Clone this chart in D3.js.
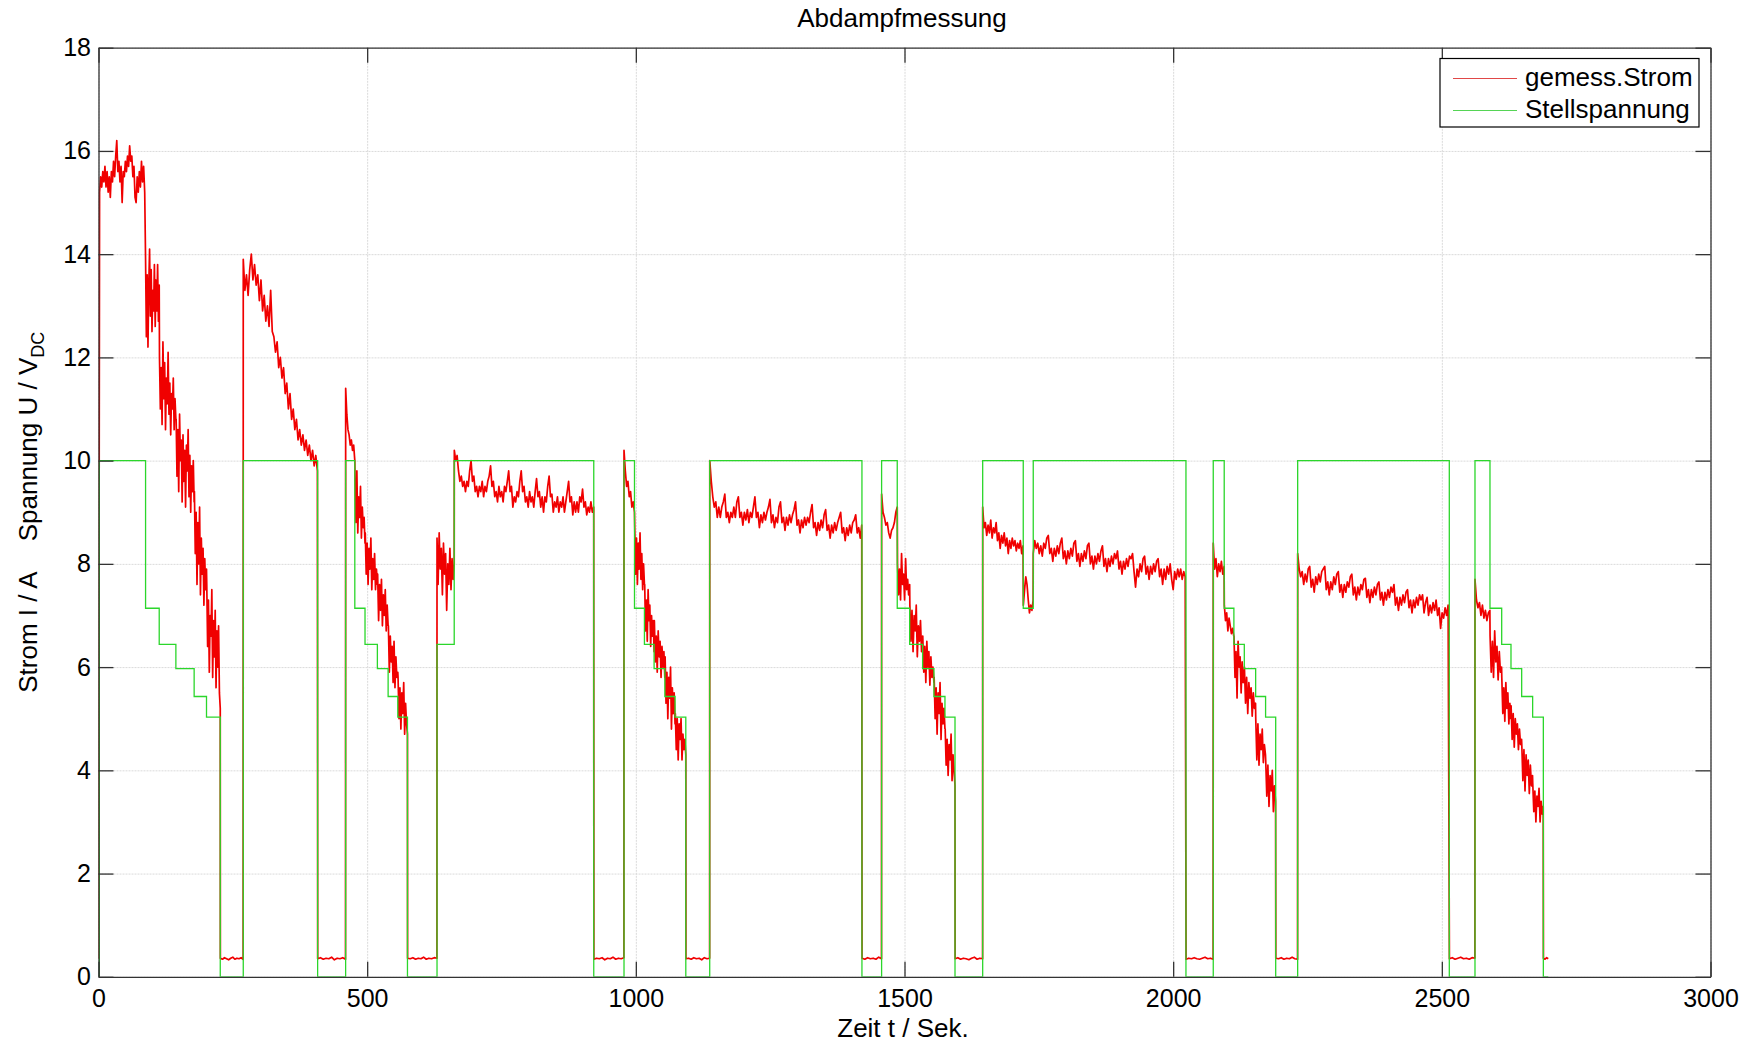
<!doctype html>
<html>
<head>
<meta charset="utf-8"/>
<title>Abdampfmessung</title>
<script src="https://cdnjs.cloudflare.com/ajax/libs/d3/7.8.5/d3.min.js"></script>
<style>
body { margin: 0; background: #fff; }
svg { font-family: "Liberation Sans", Arial, sans-serif; }
</style>
</head>
<body>
<svg width="1756" height="1043"></svg>
<script>
// --- Achsen ---
var xTicks = [0, 500, 1000, 1500, 2000, 2500, 3000]
var yTicks = [0, 2, 4, 6, 8, 10, 12, 14, 16, 18]

// --- Stellspannung (Stufenfunktion): Schaltzeitpunkte und Werte ---
var stellZeit = [0, 1.5, 87.6, 113, 144, 178, 201, 226.6, 269.4, 407.8, 459.9, 477, 496, 519, 539, 557, 575, 630, 662, 921.7,
  978, 997.5, 1016, 1034, 1054, 1073, 1093, 1137.5, 1420.8, 1457.4, 1486.5, 1509.6, 1533.7, 1554.8, 1575.3, 1594, 1645.5,
  1721, 1739.6, 2023.8, 2074.6, 2095, 2113, 2132.4, 2153.5, 2172, 2190.8, 2231.7, 2513.9, 2561.7, 2589.6, 2611.4, 2628.7,
  2648.6, 2669, 2688.9, 2698]
var stellWert = [0, 10, 7.14, 6.44, 5.97, 5.43, 5.03, 0, 10, 0, 10, 7.14, 6.44, 5.97, 5.43, 5.03, 0, 6.44, 10, 0,
  10, 7.14, 6.44, 5.97, 5.43, 5.03, 0, 10, 0, 10, 7.14, 6.44, 5.97, 5.43, 5.03, 0, 10,
  7.14, 10, 0, 10, 7.14, 6.44, 5.97, 5.43, 5.03, 0, 10, 0, 10, 7.14, 6.44, 5.97,
  5.43, 5.03, 0, 0]

var strom01 = [0.35, 15.2, 15.5, 15.3, 15.6, 15.4, 15.7, 15.3, 15.6, 15.2, 15.5, 15.1, 15.6, 15.4, 15.8, 15.5, 15.9, 16.2, 15.6, 15.8, 15.4, 15.7,
  15.0, 15.6, 15.5, 15.8, 15.6, 15.9, 15.7, 16.1, 15.8, 15.9, 15.5, 15.7, 15.1, 15.0, 15.5, 15.2, 15.6, 15.3, 15.8, 15.4, 15.7, 15.2]
var strom02 = [13.9, 12.4, 13.6, 12.2, 13.4, 14.1, 12.8, 13.7, 12.5, 13.3, 12.9, 13.8, 12.6, 13.5, 12.9, 13.8, 12.7, 13.4]
var strom03 = [12.0, 11.0, 11.8, 10.7, 12.3, 11.2, 11.9, 10.6, 11.6, 11.1, 12.1, 10.9, 11.5, 10.5, 11.3, 11.0, 11.6, 10.6, 11.2, 10.8]
var strom04 = [10.8, 9.7, 10.6, 9.4, 10.9, 10.0, 10.4, 9.2, 10.5, 9.6, 10.2, 9.1, 10.3, 9.8, 10.6, 9.3, 10.1, 9.0, 9.9, 9.4, 10.0, 9.2]
var strom05 = [9.4, 8.2, 9.0, 7.6, 8.8, 8.0, 9.1, 7.4, 8.5, 7.8, 8.3, 7.2, 8.1, 7.5, 7.9]
var strom06 = [7.6, 6.4, 7.3, 5.9, 7.0, 6.6, 7.5, 5.8, 6.9, 6.2, 7.1, 5.6, 6.7, 6.0, 6.8, 5.5, 5.2]
var aus01 = [0.36, 0.34, 0.37, 0.35, 0.33, 0.36, 0.38, 0.34, 0.36, 0.35, 0.37, 0.34]
var strom07 = [13.9, 13.3, 13.6, 13.2, 13.7, 14.0, 13.5, 13.8, 13.4, 13.6, 13.1, 13.5, 12.9, 13.2, 12.7, 13.0, 12.6, 13.3, 12.5, 12.4,
  12.1, 12.3, 11.8, 12.0, 11.6, 11.8, 11.3, 11.5, 11.0, 11.3, 10.8, 11.0, 10.6, 10.8, 10.4, 10.6, 10.3, 10.5, 10.2, 10.4,
  10.1, 10.3, 10.0, 10.2, 9.9, 10.1, 9.8]
var aus02 = [0.35, 0.37, 0.34, 0.36, 0.35, 0.38, 0.33, 0.36, 0.35, 0.37, 0.34]
var strom08 = [11.4, 10.9, 10.6, 10.5, 10.3, 10.4, 10.2, 10.3, 10.0]
var strom09 = [9.6, 8.8, 9.8, 8.6, 9.3, 8.9, 9.5, 8.5, 9.1, 8.7, 8.9, 8.4]
var strom10 = [8.6, 7.8, 8.4, 7.6, 8.3, 7.9, 8.5, 7.5, 8.1, 7.7, 8.2, 7.5, 7.9, 7.6]
var strom11 = [7.8, 6.9, 7.6, 7.1, 7.7, 6.8, 7.4, 7.0, 7.5, 6.7, 7.2, 6.8]
var strom12 = [6.8, 5.9, 6.6, 6.1, 6.4, 5.7, 6.5, 5.6, 6.2, 5.8, 5.9]
var strom13 = [5.8, 5.0, 5.6, 4.8, 5.5, 5.1, 5.7, 4.7, 5.3, 4.9, 4.7]
var aus03 = [0.36, 0.35, 0.37, 0.34, 0.36, 0.35, 0.38, 0.34, 0.36, 0.35, 0.37, 0.36]
var strom14 = [8.5, 7.6, 8.6, 7.9, 8.3, 7.4, 8.4, 7.8, 8.2, 7.1, 8.0, 7.6, 8.3, 7.5, 8.1, 7.7, 8.0]
var strom15 = [10.2, 10.0, 10.1, 9.8, 9.6, 9.7, 9.5, 9.6, 9.4, 9.6, 9.5, 9.8, 10.0, 9.6, 9.7, 9.4, 9.5, 9.3, 9.5, 9.4,
  9.6, 9.3, 9.5, 9.4, 9.6, 9.7, 9.9, 9.5, 9.6, 9.3, 9.4, 9.2, 9.5, 9.3, 9.4, 9.2, 9.5, 9.4, 9.6, 9.8,
  9.4, 9.5, 9.1, 9.3, 9.2, 9.4, 9.3, 9.6, 9.8, 9.4, 9.5, 9.2, 9.3, 9.1, 9.4, 9.2, 9.3, 9.1, 9.4, 9.65,
  9.3, 9.4, 9.1, 9.3, 9.0, 9.3, 9.2, 9.5, 9.7, 9.3, 9.35, 9.0, 9.2, 9.1, 9.3, 9.0, 9.2, 9.1, 9.3, 9.0,
  9.2, 9.4, 9.6, 9.2, 9.3, 8.95, 9.2, 9.0, 9.2, 9.0, 9.3, 9.2, 9.45, 9.1, 9.2, 8.95, 9.1, 9.0, 9.2, 9.0, 9.1]
var aus04 = [0.34, 0.36, 0.35, 0.37, 0.33, 0.36, 0.35, 0.38, 0.34, 0.36, 0.35, 0.37]
var strom16 = [10.2, 9.8, 9.5, 9.6, 9.3, 9.4, 9.1, 9.2, 9.0]
var strom17 = [8.7, 7.8, 8.5, 7.6, 8.4, 7.9, 8.6, 7.7, 8.2, 7.5, 8.0, 7.6]
var strom18 = [7.6, 6.7, 7.3, 6.5, 7.5, 6.9, 7.2, 6.4, 7.0, 6.6, 6.9, 6.3]
var strom19 = [6.9, 6.1, 6.6, 5.9, 6.7, 6.2, 6.5, 5.8, 6.4, 6.0, 6.3, 5.8]
var strom20 = [6.2, 5.3, 5.9, 5.0, 5.8, 5.4, 6.0, 4.8, 5.6, 5.1, 5.5, 4.9]
var strom21 = [5.1, 4.4, 5.0, 4.2, 4.9, 4.6, 5.0, 4.2, 4.7, 4.4, 4.6, 4.3]
var aus05 = [0.35, 0.36, 0.34, 0.37, 0.35, 0.36, 0.33, 0.37, 0.35, 0.36]
var strom22 = [10.0, 9.6, 9.3, 9.1, 9.2, 8.9, 9.1, 8.9, 9.1, 9.2, 9.35, 8.9, 9.0, 8.8, 9.0, 8.9, 9.1, 8.9, 9.2, 9.3,
  8.9, 9.0, 8.75, 9.0, 8.85, 9.05, 8.8, 9.0, 8.9, 9.1, 9.3, 8.9, 9.0, 8.7, 8.95, 8.8, 9.0, 8.85, 9.0, 9.1,
  9.25, 8.8, 8.95, 8.7, 8.9, 8.8, 9.1, 9.2, 8.8, 8.9, 8.65, 8.9, 8.75, 8.95, 8.8, 8.95, 9.05, 9.2, 8.75, 8.85,
  8.6, 8.85, 8.7, 8.9, 8.75, 8.9, 8.8, 9.0, 9.15, 8.7, 8.8, 8.55, 8.8, 8.65, 8.85, 8.7, 8.95, 9.05, 8.65, 8.75,
  8.5, 8.75, 8.6, 8.8, 8.65, 8.8, 8.9, 9.0, 8.6, 8.7, 8.45, 8.7, 8.55, 8.75, 8.6, 8.8, 8.85, 8.95, 8.6, 8.7, 8.5, 8.75]
var aus06 = [0.36, 0.34, 0.37, 0.35, 0.36, 0.34, 0.38, 0.35]
var strom23 = [9.35, 9.0, 8.9, 8.75, 8.8, 8.6, 8.5, 8.65, 8.7, 8.8, 9.0, 9.1]
var strom24 = [8.0, 7.4, 7.9, 7.3, 8.2, 7.6, 7.8, 7.3, 8.1, 7.5, 7.7, 7.4, 7.6]
var strom25 = [7.2, 6.5, 7.1, 6.3, 7.0, 6.7, 7.2, 6.2, 6.8, 6.5, 6.9, 6.3, 6.6]
var strom26 = [6.6, 5.9, 6.4, 5.7, 6.5, 6.0, 6.3, 5.65, 6.2, 5.8, 6.0, 5.7]
var strom27 = [5.8, 5.0, 5.6, 4.7, 5.5, 5.1, 5.7, 4.6, 5.3, 4.9, 5.2, 4.8]
var strom28 = [4.8, 4.1, 4.6, 3.9, 4.5, 4.2, 4.7, 3.8, 4.3, 4.0, 3.7]
var aus07 = [0.35, 0.37, 0.34, 0.36, 0.35, 0.33, 0.36, 0.38, 0.34, 0.36, 0.35]
var strom29 = [9.1, 8.7, 8.8, 8.55, 8.75, 8.6, 8.85, 8.5, 8.7, 8.6, 8.8, 8.45, 8.6, 8.3, 8.55, 8.4, 8.6, 8.35, 8.5, 8.2,
  8.45, 8.3, 8.5, 8.35, 8.45, 8.25, 8.4, 8.3, 8.45, 8.2, 8.35]
var strom30 = [7.2, 7.5, 7.75, 7.6, 7.3, 7.05, 7.2, 7.1, 7.3]
var strom31 = [8.2, 8.45, 8.3, 8.4, 8.2, 8.35, 8.15, 8.4, 8.3, 8.5, 8.55, 8.2, 8.3, 8.05, 8.3, 8.15, 8.35, 8.2, 8.4, 8.5,
  8.1, 8.25, 8.0, 8.25, 8.1, 8.3, 8.15, 8.4, 8.45, 8.05, 8.2, 7.95, 8.2, 8.05, 8.25, 8.1, 8.35, 8.4, 8.0, 8.15,
  7.9, 8.15, 8.0, 8.2, 8.05, 8.25, 8.35, 7.95, 8.1, 7.85, 8.1, 7.95, 8.15, 8.0, 8.2, 8.1, 8.25, 7.9, 8.05, 7.8,
  8.05, 7.9, 8.1, 7.95, 8.15, 8.1, 8.2, 7.85, 7.55, 7.9, 7.75, 8.0, 7.85, 8.1, 8.15, 7.8, 7.95, 7.7, 7.95, 7.8,
  8.0, 7.85, 8.05, 8.1, 7.75, 7.9, 7.6, 7.9, 7.7, 7.95, 7.8, 8.0, 7.7, 7.5, 7.85, 7.7, 7.9, 7.75, 7.9, 7.7, 7.85, 7.75]
var aus08 = [0.34, 0.36, 0.35, 0.37, 0.35, 0.34, 0.36, 0.38, 0.35, 0.36, 0.34]
var strom32 = [8.4, 7.9, 8.1, 7.75, 8.0, 7.85, 8.05, 7.8, 7.95]
var strom33 = [7.2, 6.9, 7.05, 6.7, 6.95, 6.8, 6.65, 6.75, 6.6]
var strom34 = [6.6, 5.8, 6.3, 5.4, 6.5, 6.0, 6.2, 5.5, 6.1, 5.7, 5.9]
var strom35 = [6.0, 5.3, 5.8, 5.1, 5.7, 5.4, 5.6, 5.05, 5.5, 5.2, 5.3]
var strom36 = [5.0, 4.2, 4.9, 4.1, 4.7, 4.4, 4.8, 4.15, 4.5, 4.3]
var strom37 = [4.2, 3.5, 4.1, 3.3, 3.9, 3.6, 4.0, 3.2, 3.7, 3.4]
var aus09 = [0.36, 0.35, 0.37, 0.34, 0.36, 0.35, 0.38, 0.35, 0.34]
var strom38 = [8.2, 7.9, 7.75, 7.85, 7.6, 7.8, 7.65, 7.9, 7.95, 7.55, 7.7, 7.45, 7.75, 7.6, 7.8, 7.65, 7.85, 7.9, 7.95, 7.5,
  7.65, 7.4, 7.65, 7.5, 7.75, 7.6, 7.8, 7.85, 7.45, 7.6, 7.35, 7.6, 7.45, 7.65, 7.55, 7.75, 7.8, 7.4, 7.55, 7.3,
  7.55, 7.4, 7.6, 7.5, 7.7, 7.72, 7.35, 7.5, 7.25, 7.5, 7.35, 7.55, 7.4, 7.6, 7.65, 7.3, 7.45, 7.2, 7.45, 7.3,
  7.5, 7.35, 7.55, 7.45, 7.6, 7.2, 7.35, 7.1, 7.35, 7.2, 7.4, 7.25, 7.45, 7.5, 7.15, 7.3, 7.05, 7.3, 7.15, 7.35,
  7.2, 7.4, 7.3, 7.4, 7.05, 7.25, 7.35, 7.0, 7.2, 7.05, 7.25, 7.1, 7.3, 7.0, 7.15, 6.75, 7.05, 6.95, 7.15, 7.0, 7.2]
var aus10 = [0.35, 0.37, 0.34, 0.36, 0.38, 0.35, 0.36, 0.34, 0.37, 0.36]
var strom39 = [7.7, 7.3, 7.15, 7.25, 7.0, 7.2, 6.95, 7.1, 6.9, 7.05, 7.1]
var strom40 = [6.6, 5.9, 6.5, 5.8, 6.7, 6.1, 6.4, 5.75, 6.3, 5.9, 6.0]
var strom41 = [5.8, 5.1, 5.6, 4.95, 5.7, 5.2, 5.5, 4.9, 5.3, 5.0]
var strom42 = [5.25, 4.6, 5.1, 4.45, 5.0, 4.7, 4.9, 4.4, 4.8, 4.5, 4.6]
var strom43 = [4.5, 3.8, 4.4, 3.6, 4.3, 3.9, 4.2, 3.55, 4.1, 3.7, 3.9]
var strom44 = [3.75, 3.2, 3.6, 3.0, 3.5, 3.3, 3.65, 3.0, 3.4, 3.15, 3.3]
var aus11 = [0.36, 0.34, 0.37, 0.35]

// Abschnitte: [von Sek., bis Sek., Messwerte]
var stromAbschnitte = [
  [0, 86, strom01], [87.6, 113, strom02], [113.5, 144, strom03], [144.5, 178, strom04], [178.5, 201, strom05],
  [201.5, 226.6, strom06], [226.8, 269.2, aus01], [269.4, 407.4, strom07], [407.9, 459.7, aus02],
  [460, 477, strom08], [477.5, 496, strom09], [496.5, 519, strom10], [519.5, 539, strom11], [539.5, 557, strom12],
  [557.5, 575, strom13], [575.2, 629.8, aus03], [630, 662, strom14], [662.2, 921.6, strom15], [921.9, 977.8, aus04],
  [978, 997.5, strom16], [998, 1016, strom17], [1016.5, 1034, strom18], [1034.5, 1054, strom19], [1054.5, 1073, strom20],
  [1073.5, 1093, strom21], [1093.2, 1137.3, aus05], [1137.6, 1420.4, strom22], [1421, 1457.2, aus06],
  [1457.4, 1486.5, strom23], [1487, 1509.6, strom24], [1510, 1533.7, strom25], [1534, 1554.8, strom26],
  [1555.2, 1575.3, strom27], [1575.7, 1594, strom28], [1594.2, 1645.3, aus07], [1645.5, 1720.6, strom29],
  [1721.2, 1739.4, strom30], [1739.6, 2022.4, strom31], [2024, 2074.4, aus08], [2074.6, 2094.8, strom32],
  [2095.2, 2112.8, strom33], [2113.2, 2132.2, strom34], [2132.6, 2153.3, strom35], [2153.7, 2171.8, strom36],
  [2172.2, 2190.6, strom37], [2191, 2231.5, aus09], [2231.7, 2511.7, strom38], [2514.1, 2561.5, aus10],
  [2561.7, 2589.4, strom39], [2589.8, 2611.2, strom40], [2611.6, 2628.5, strom41], [2628.9, 2648.4, strom42],
  [2648.8, 2668.8, strom43], [2669.2, 2688.7, strom44], [2689.1, 2698, aus11]
]

// Messpunkte gleichmaessig ueber jeden Abschnitt verteilen
var stromDaten = []
stromAbschnitte.forEach(function(a) {
  var n = a[2].length
  a[2].forEach(function(v, i) {
    stromDaten.push([n > 1 ? a[0] + i * (a[1] - a[0]) / (n - 1) : a[0], v])
  })
})
var stellDaten = stellZeit.map((t, i) => [t, stellWert[i]])

var pLeft = 98.5, pRight = 1710.5, pTop = 47.7, pBottom = 976.8
var x = d3.scaleLinear().domain([0, 3000]).range([pLeft, pRight])
var y = d3.scaleLinear().domain([0, 18]).range([pBottom, pTop])

var svg = d3.select("svg")
svg.append("rect").attr("width", 1756).attr("height", 1043).attr("fill", "#fff")

// Gitter
svg.append("g")
  .attr("transform", "translate(0," + pBottom + ")")
  .call(d3.axisBottom(x).tickValues(xTicks).tickSize(-(pBottom - pTop)).tickFormat(""))
  .call(g => g.select(".domain").remove())
  .selectAll("line").attr("stroke", "#dadada").attr("stroke-dasharray", "2,1")
svg.append("g")
  .attr("transform", "translate(" + pLeft + ",0)")
  .call(d3.axisLeft(y).tickValues(yTicks).tickSize(-(pRight - pLeft)).tickFormat(""))
  .call(g => g.select(".domain").remove())
  .selectAll("line").attr("stroke", "#dadada").attr("stroke-dasharray", "2,1")

svg.append("clipPath").attr("id", "clip")
  .append("rect").attr("x", pLeft).attr("y", pTop).attr("width", pRight - pLeft).attr("height", pBottom - pTop)

var line = d3.line().x(d => x(d[0])).y(d => y(d[1]))

svg.append("path")
  .datum(stromDaten)
  .attr("clip-path", "url(#clip)")
  .attr("fill", "none")
  .attr("stroke", "#f00000")
  .attr("stroke-width", 1.7)
  .attr("stroke-linejoin", "round")
  .attr("d", line)

svg.append("path")
  .datum(stellDaten)
  .attr("clip-path", "url(#clip)")
  .attr("fill", "none")
  .attr("stroke", "#2bd62b")
  .attr("stroke-width", 1.3)
  .attr("d", line.curve(d3.curveStepAfter))

// Achsen mit Innenstrichen
function styleAxis(g) {
  g.selectAll("path").attr("stroke", "#333").attr("stroke-width", 1.3)
  g.selectAll("line").attr("stroke", "#333").attr("stroke-width", 1.3)
  g.selectAll("text").attr("fill", "#000").attr("font-size", 25).attr("font-family", '"Liberation Sans", Arial, sans-serif')
}
svg.append("g").attr("transform", "translate(0," + pBottom + ")")
  .call(d3.axisBottom(x).tickValues(xTicks).tickSizeInner(-15).tickSizeOuter(0).tickPadding(12.5).tickFormat(d3.format("d")))
  .call(styleAxis)
svg.append("g").attr("transform", "translate(0," + pTop + ")")
  .call(d3.axisTop(x).tickValues(xTicks).tickSizeInner(-15).tickSizeOuter(0).tickFormat(""))
  .call(styleAxis)
svg.append("g").attr("transform", "translate(" + pLeft + ",0)")
  .call(d3.axisLeft(y).tickValues(yTicks).tickSizeInner(-15).tickSizeOuter(0).tickPadding(7.5).tickFormat(d3.format("d")))
  .call(styleAxis)
svg.append("g").attr("transform", "translate(" + pRight + ",0)")
  .call(d3.axisRight(y).tickValues(yTicks).tickSizeInner(-15).tickSizeOuter(0).tickFormat(""))
  .call(styleAxis)

// Titel und Beschriftungen
svg.append("text").attr("x", 902).attr("y", 27).attr("text-anchor", "middle")
  .attr("font-size", 26).text("Abdampfmessung")
svg.append("text").attr("x", 903).attr("y", 1036.5).attr("text-anchor", "middle")
  .attr("font-size", 26).text("Zeit t / Sek.")

var ylab = svg.append("text")
  .attr("transform", "translate(36.5," + ((pTop + pBottom) / 2) + ") rotate(-90)")
  .attr("text-anchor", "middle").attr("font-size", 26)
ylab.append("tspan").text("Strom I / A")
ylab.append("tspan").attr("dx", 30).text("Spannung U / V")
ylab.append("tspan").attr("font-size", 18).attr("dy", 7).text("DC")

// Legende
var leg = svg.append("g")
leg.append("rect").attr("x", 1440).attr("y", 58.5).attr("width", 259).attr("height", 68.5)
  .attr("fill", "#fff").attr("stroke", "#000").attr("stroke-width", 1.2)
var legende = [["gemess.Strom", "#e04848", 78.5, 86], ["Stellspannung", "#55d455", 110.5, 117.5]]
legende.forEach(function(l) {
  leg.append("line").attr("x1", 1453).attr("x2", 1517).attr("y1", l[2]).attr("y2", l[2])
    .attr("stroke", l[1]).attr("stroke-width", 1.2)
  leg.append("text").attr("x", 1525).attr("y", l[3]).attr("font-size", 26).text(l[0])
})
</script>
</body>
</html>
